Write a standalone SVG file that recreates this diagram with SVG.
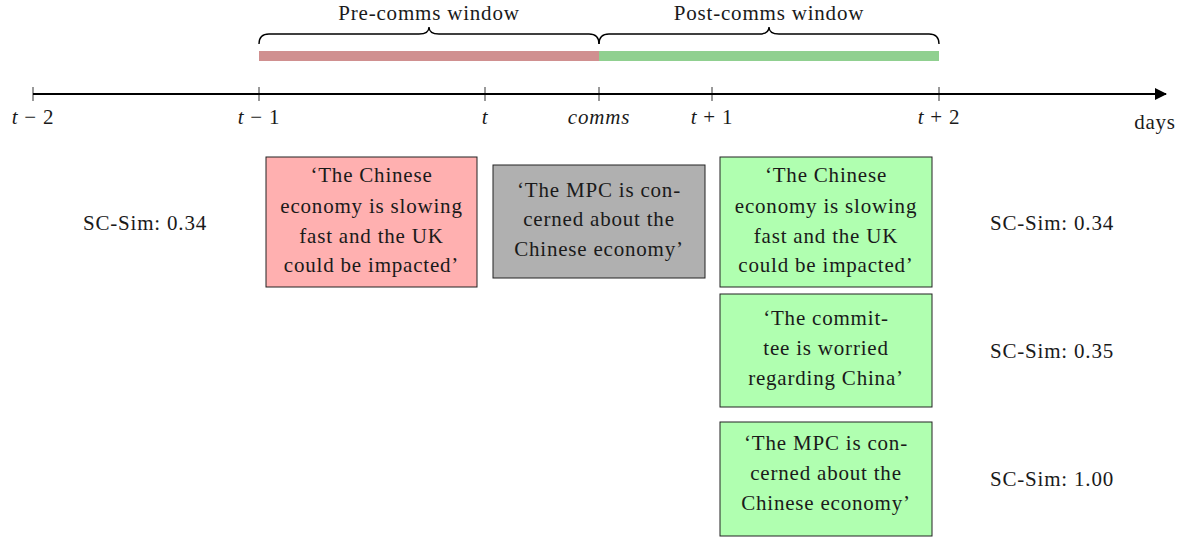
<svg xmlns="http://www.w3.org/2000/svg" width="1181" height="537" viewBox="0 0 1181 537" font-family="'Liberation Serif', serif" font-size="21">
  <style>
    text { fill: #1a1a1a; letter-spacing: 0.8px; }
    .lbl { text-anchor: middle; }
    .it { font-style: italic; }
    .box { stroke: #222; stroke-width: 1; }
    .red { fill: #ffb0b0; }
    .grey { fill: #b0b0b0; }
    .green { fill: #b0ffb0; }
    .axis { stroke: #000; stroke-width: 1.8; fill: none; }
    .tick { stroke: #000; stroke-width: 0.8; }
    .brace { stroke: #000; stroke-width: 1.4; fill: none; }
  </style>
  <defs>
    <marker id="arrow" markerWidth="12" markerHeight="12" refX="11" refY="6" orient="auto" markerUnits="userSpaceOnUse">
      <path d="M0,0 L12,6 L0,12 Z" fill="#000"/>
    </marker>
  </defs>

  <!-- window bars and braces -->
  <g id="windows">
    <rect x="259" y="51" width="340" height="10" fill="#d09090"/>
    <rect x="599" y="51" width="340" height="10" fill="#90d090"/>
    <path class="brace" d="M259,44 Q259,34 269,34 L419,34 Q429,34 429,27 Q429,34 439,34 L589,34 Q599,34 599,44"/>
    <path class="brace" d="M599,44 Q599,34 609,34 L759,34 Q769,34 769,27 Q769,34 779,34 L929,34 Q939,34 939,44"/>
    <text class="lbl" x="429" y="20">Pre-comms window</text>
    <text class="lbl" x="769" y="20">Post-comms window</text>
  </g>

  <!-- time axis -->
  <g id="axis">
    <line class="axis" x1="33" y1="94" x2="1166" y2="94" marker-end="url(#arrow)"/>
    <line class="tick" x1="33" y1="87" x2="33" y2="101"/>
    <line class="tick" x1="259" y1="87" x2="259" y2="101"/>
    <line class="tick" x1="485" y1="87" x2="485" y2="101"/>
    <line class="tick" x1="599" y1="87" x2="599" y2="101"/>
    <line class="tick" x1="712" y1="87" x2="712" y2="101"/>
    <line class="tick" x1="939" y1="87" x2="939" y2="101"/>
    <text class="lbl" x="33" y="124"><tspan class="it">t</tspan> − 2</text>
    <text class="lbl" x="259" y="124"><tspan class="it">t</tspan> − 1</text>
    <text class="lbl it" x="485" y="124">t</text>
    <text class="lbl it" x="599" y="124">comms</text>
    <text class="lbl" x="712" y="124"><tspan class="it">t</tspan> + 1</text>
    <text class="lbl" x="939" y="124"><tspan class="it">t</tspan> + 2</text>
    <text class="lbl" x="1155" y="129">days</text>
  </g>

  <!-- pre-comms statement -->
  <g id="pre-statement">
    <rect class="box red" x="266" y="157" width="211" height="130"/>
    <text class="lbl" x="371.5" y="182">‘The Chinese</text>
    <text class="lbl" x="371.5" y="213">economy is slowing</text>
    <text class="lbl" x="371.5" y="243">fast and the UK</text>
    <text class="lbl" x="371.5" y="272">could be impacted’</text>
  </g>
  <text id="pre-sim" class="lbl" x="145" y="230">SC-Sim: 0.34</text>

  <!-- comms statement -->
  <g id="comms-statement">
    <rect class="box grey" x="493" y="165" width="212" height="113"/>
    <text class="lbl" x="599" y="197">‘The MPC is con-</text>
    <text class="lbl" x="599" y="226">cerned about the</text>
    <text class="lbl" x="599" y="256">Chinese economy’</text>
  </g>

  <!-- post-comms statements -->
  <g id="post-statement-1">
    <rect class="box green" x="720" y="157" width="212" height="130"/>
    <text class="lbl" x="826" y="182">‘The Chinese</text>
    <text class="lbl" x="826" y="213">economy is slowing</text>
    <text class="lbl" x="826" y="243">fast and the UK</text>
    <text class="lbl" x="826" y="272">could be impacted’</text>
  </g>
  <text id="post-sim-1" class="lbl" x="1052" y="230">SC-Sim: 0.34</text>

  <g id="post-statement-2">
    <rect class="box green" x="720" y="294" width="212" height="113"/>
    <text class="lbl" x="826" y="325">‘The commit-</text>
    <text class="lbl" x="826" y="355">tee is worried</text>
    <text class="lbl" x="826" y="385">regarding China’</text>
  </g>
  <text id="post-sim-2" class="lbl" x="1052" y="358">SC-Sim: 0.35</text>

  <g id="post-statement-3">
    <rect class="box green" x="720" y="422" width="212" height="114"/>
    <text class="lbl" x="826" y="450">‘The MPC is con-</text>
    <text class="lbl" x="826" y="480">cerned about the</text>
    <text class="lbl" x="826" y="510">Chinese economy’</text>
  </g>
  <text id="post-sim-3" class="lbl" x="1052" y="486">SC-Sim: 1.00</text>
</svg>
